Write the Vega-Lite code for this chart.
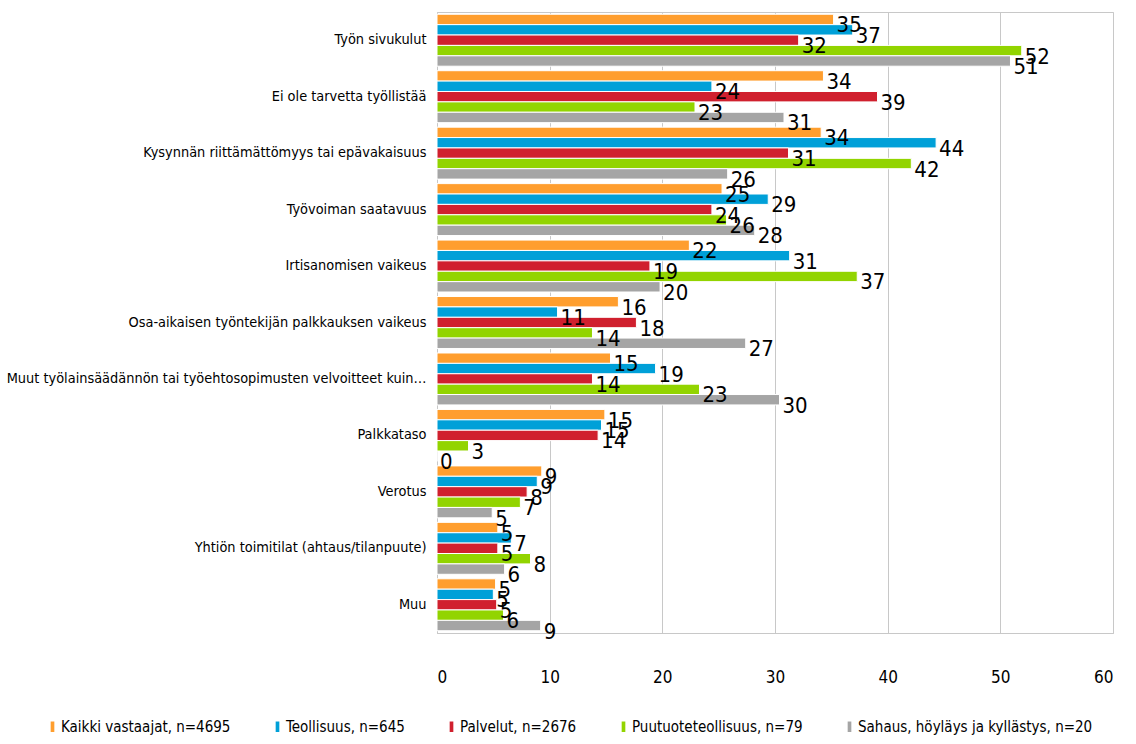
{
  "$schema": "https://vega.github.io/schema/vega-lite/v6.json",
  "width": 676,
  "height": 621,
  "autosize": {"type": "none"},
  "padding": {"left": 437, "top": 12, "right": 23, "bottom": 111},
  "background": "white",
  "config": {
    "view": {"stroke": "#c8c8c8", "strokeWidth": 1},
    "font": "DejaVu Sans Condensed"
  },
  "data": {
    "values": [
      {"cat": "Työn sivukulut", "s": "Kaikki vastaajat, n=4695", "v": 35.2},
      {"cat": "Työn sivukulut", "s": "Teollisuus, n=645", "v": 36.9},
      {"cat": "Työn sivukulut", "s": "Palvelut, n=2676", "v": 32.1},
      {"cat": "Työn sivukulut", "s": "Puutuoteteollisuus, n=79", "v": 51.9},
      {"cat": "Työn sivukulut", "s": "Sahaus, höyläys ja kyllästys, n=20", "v": 50.9},
      {"cat": "Ei ole tarvetta työllistää", "s": "Kaikki vastaajat, n=4695", "v": 34.3},
      {"cat": "Ei ole tarvetta työllistää", "s": "Teollisuus, n=645", "v": 24.4},
      {"cat": "Ei ole tarvetta työllistää", "s": "Palvelut, n=2676", "v": 39.1},
      {"cat": "Ei ole tarvetta työllistää", "s": "Puutuoteteollisuus, n=79", "v": 22.9},
      {"cat": "Ei ole tarvetta työllistää", "s": "Sahaus, höyläys ja kyllästys, n=20", "v": 30.8},
      {"cat": "Kysynnän riittämättömyys tai epävakaisuus", "s": "Kaikki vastaajat, n=4695", "v": 34.1},
      {"cat": "Kysynnän riittämättömyys tai epävakaisuus", "s": "Teollisuus, n=645", "v": 44.3},
      {"cat": "Kysynnän riittämättömyys tai epävakaisuus", "s": "Palvelut, n=2676", "v": 31.2},
      {"cat": "Kysynnän riittämättömyys tai epävakaisuus", "s": "Puutuoteteollisuus, n=79", "v": 42.1},
      {"cat": "Kysynnän riittämättömyys tai epävakaisuus", "s": "Sahaus, höyläys ja kyllästys, n=20", "v": 25.8},
      {"cat": "Työvoiman saatavuus", "s": "Kaikki vastaajat, n=4695", "v": 25.3},
      {"cat": "Työvoiman saatavuus", "s": "Teollisuus, n=645", "v": 29.4},
      {"cat": "Työvoiman saatavuus", "s": "Palvelut, n=2676", "v": 24.4},
      {"cat": "Työvoiman saatavuus", "s": "Puutuoteteollisuus, n=79", "v": 25.7},
      {"cat": "Työvoiman saatavuus", "s": "Sahaus, höyläys ja kyllästys, n=20", "v": 28.2},
      {"cat": "Irtisanomisen vaikeus", "s": "Kaikki vastaajat, n=4695", "v": 22.4},
      {"cat": "Irtisanomisen vaikeus", "s": "Teollisuus, n=645", "v": 31.3},
      {"cat": "Irtisanomisen vaikeus", "s": "Palvelut, n=2676", "v": 18.9},
      {"cat": "Irtisanomisen vaikeus", "s": "Puutuoteteollisuus, n=79", "v": 37.3},
      {"cat": "Irtisanomisen vaikeus", "s": "Sahaus, höyläys ja kyllästys, n=20", "v": 19.8},
      {"cat": "Osa-aikaisen työntekijän palkkauksen vaikeus", "s": "Kaikki vastaajat, n=4695", "v": 16.1},
      {"cat": "Osa-aikaisen työntekijän palkkauksen vaikeus", "s": "Teollisuus, n=645", "v": 10.7},
      {"cat": "Osa-aikaisen työntekijän palkkauksen vaikeus", "s": "Palvelut, n=2676", "v": 17.7},
      {"cat": "Osa-aikaisen työntekijän palkkauksen vaikeus", "s": "Puutuoteteollisuus, n=79", "v": 13.8},
      {"cat": "Osa-aikaisen työntekijän palkkauksen vaikeus", "s": "Sahaus, höyläys ja kyllästys, n=20", "v": 27.4},
      {"cat": "Muut työlainsäädännön tai työehtosopimusten velvoitteet kuin…", "s": "Kaikki vastaajat, n=4695", "v": 15.4},
      {"cat": "Muut työlainsäädännön tai työehtosopimusten velvoitteet kuin…", "s": "Teollisuus, n=645", "v": 19.4},
      {"cat": "Muut työlainsäädännön tai työehtosopimusten velvoitteet kuin…", "s": "Palvelut, n=2676", "v": 13.8},
      {"cat": "Muut työlainsäädännön tai työehtosopimusten velvoitteet kuin…", "s": "Puutuoteteollisuus, n=79", "v": 23.3},
      {"cat": "Muut työlainsäädännön tai työehtosopimusten velvoitteet kuin…", "s": "Sahaus, höyläys ja kyllästys, n=20", "v": 30.4},
      {"cat": "Palkkataso", "s": "Kaikki vastaajat, n=4695", "v": 14.9},
      {"cat": "Palkkataso", "s": "Teollisuus, n=645", "v": 14.6},
      {"cat": "Palkkataso", "s": "Palvelut, n=2676", "v": 14.3},
      {"cat": "Palkkataso", "s": "Puutuoteteollisuus, n=79", "v": 2.8},
      {"cat": "Palkkataso", "s": "Sahaus, höyläys ja kyllästys, n=20", "v": 0},
      {"cat": "Verotus", "s": "Kaikki vastaajat, n=4695", "v": 9.3},
      {"cat": "Verotus", "s": "Teollisuus, n=645", "v": 8.9},
      {"cat": "Verotus", "s": "Palvelut, n=2676", "v": 8.0},
      {"cat": "Verotus", "s": "Puutuoteteollisuus, n=79", "v": 7.4},
      {"cat": "Verotus", "s": "Sahaus, höyläys ja kyllästys, n=20", "v": 4.9},
      {"cat": "Yhtiön toimitilat (ahtaus/tilanpuute)", "s": "Kaikki vastaajat, n=4695", "v": 5.4},
      {"cat": "Yhtiön toimitilat (ahtaus/tilanpuute)", "s": "Teollisuus, n=645", "v": 6.6},
      {"cat": "Yhtiön toimitilat (ahtaus/tilanpuute)", "s": "Palvelut, n=2676", "v": 5.4},
      {"cat": "Yhtiön toimitilat (ahtaus/tilanpuute)", "s": "Puutuoteteollisuus, n=79", "v": 8.3},
      {"cat": "Yhtiön toimitilat (ahtaus/tilanpuute)", "s": "Sahaus, höyläys ja kyllästys, n=20", "v": 6.0},
      {"cat": "Muu", "s": "Kaikki vastaajat, n=4695", "v": 5.2},
      {"cat": "Muu", "s": "Teollisuus, n=645", "v": 5.0},
      {"cat": "Muu", "s": "Palvelut, n=2676", "v": 5.3},
      {"cat": "Muu", "s": "Puutuoteteollisuus, n=79", "v": 5.9},
      {"cat": "Muu", "s": "Sahaus, höyläys ja kyllästys, n=20", "v": 9.2}
    ]
  },
  "encoding": {
    "y": {
      "field": "cat",
      "type": "nominal",
      "sort": null,
      "scale": {"paddingInner": 0.08, "paddingOuter": 0.04},
      "axis": {
        "title": null,
        "labelFont": "DejaVu Sans Condensed",
        "labelFontSize": 14.4,
        "labelColor": "#000000",
        "labelLimit": 440,
        "labelPadding": 11,
        "ticks": false,
        "domainColor": "#c8c8c8"
      }
    },
    "yOffset": {
      "field": "s",
      "type": "nominal",
      "sort": ["Kaikki vastaajat, n=4695", "Teollisuus, n=645", "Palvelut, n=2676", "Puutuoteteollisuus, n=79", "Sahaus, höyläys ja kyllästys, n=20"]
    },
    "x": {
      "field": "v",
      "type": "quantitative",
      "scale": {"domain": [0, 60], "nice": false},
      "axis": {
        "title": null,
        "values": [0, 10, 20, 30, 40, 50, 60],
        "grid": true,
        "gridColor": "#c8c8c8",
        "ticks": false,
        "domainColor": "#c8c8c8",
        "labelFont": "DejaVu Sans Condensed",
        "labelFontSize": 17,
        "labelColor": "#000000",
        "labelPadding": 36
      }
    }
  },
  "layer": [
    {
      "mark": {"type": "bar", "stroke": "white", "strokeWidth": 1},
      "encoding": {
        "color": {
          "field": "s",
          "type": "nominal",
          "scale": {
            "domain": ["Kaikki vastaajat, n=4695", "Teollisuus, n=645", "Palvelut, n=2676", "Puutuoteteollisuus, n=79", "Sahaus, höyläys ja kyllästys, n=20"],
            "range": ["#FF9E2E", "#00A0D8", "#D0202E", "#92D400", "#A5A5A5"]
          },
          "legend": {
            "title": null,
            "orient": "none",
            "direction": "horizontal",
            "legendX": -392,
            "legendY": 707,
            "symbolType": "M-0.35,-1H0.35V1H-0.35Z",
            "symbolSize": 110,
            "symbolStrokeWidth": 0,
            "labelFont": "DejaVu Sans Condensed",
            "labelFontSize": 15,
            "labelLimit": 400,
            "labelColor": "#000000",
            "labelOffset": 1,
            "columnPadding": 39
          }
        }
      }
    },
    {
      "mark": {
        "type": "text",
        "align": "left",
        "baseline": "middle",
        "dx": 3,
        "dy": 6,
        "font": "DejaVu Sans Condensed",
        "fontSize": 22,
        "color": "#000000"
      },
      "encoding": {
        "text": {"field": "v", "type": "quantitative", "format": ".0f"}
      }
    }
  ]
}
